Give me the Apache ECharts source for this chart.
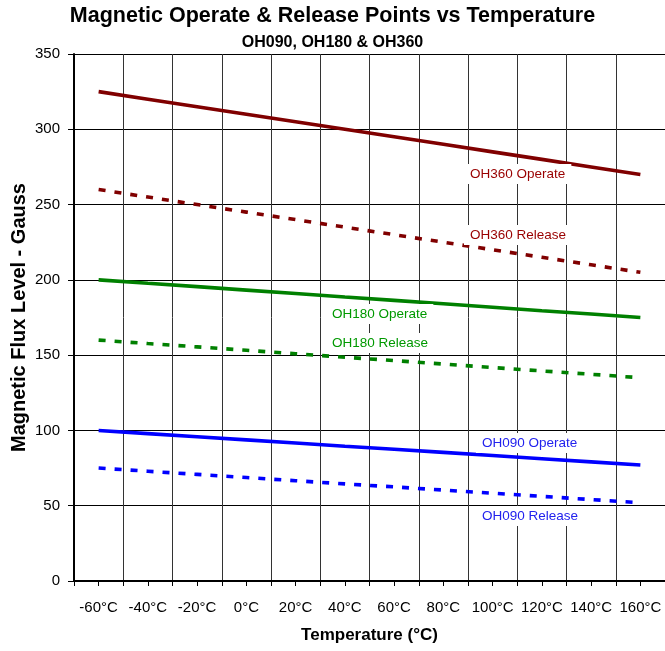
<!DOCTYPE html>
<html>
<head>
<meta charset="utf-8">
<script src="https://cdn.jsdelivr.net/npm/echarts@6/dist/echarts.min.js"></script>
<style>
html,body{margin:0;padding:0;background:#fff;}
#chart{width:665px;height:651px;}
</style>
</head>
<body>
<div id="chart"></div>
<script>
const categories = ['-60°C','-40°C','-20°C','0°C','20°C','40°C','60°C','80°C','100°C','120°C','140°C','160°C'];
const oh360Operate = [325,320,315,310,305,300,295,290,285,280,275,270];
const oh360Release = [260,255,250,245,240,235,230,225,220,215,210,205];
const oh180Operate = [200,197.7,195.5,193.2,190.9,188.6,186.4,184.1,181.8,179.5,177.3,175];
const oh180Release = [160,157.7,155.5,153.2,150.9,148.6,146.4,144.1,141.8,139.5,137.3,135];
const oh090Operate = [100,97.9,95.8,93.7,91.6,89.5,87.5,85.4,83.3,81.2,79.1,77];
const oh090Release = [75,72.9,70.8,68.7,66.6,64.5,62.5,60.4,58.3,56.2,54.1,52];
const yTicks = [0,50,100,150,200,250,300,350];

const cRed = '#800000', cGreen = '#008000', cBlue = '#0000ff';
const FONT = 'Liberation Sans, Arial, sans-serif';

function line(name, data, color, dashed){
  return {
    name, type:'line', data, xAxisIndex:0, yAxisIndex:0,
    symbol:'none', smooth:false, animation:false,
    lineStyle:{color, width:3.6, type: dashed ? [7,9] : 'solid', cap:'butt'},
    z:5
  };
}
function note(text, x, y, color){
  return {
    type:'text', left:x, top:y, z:10,
    style:{text, fill:color, font:'13.5px '+FONT, backgroundColor:'#fff', padding:[3,6,3,6]}
  };
}

const chart = echarts.init(document.getElementById('chart'), null, {renderer:'canvas'});
chart.setOption({
  animation:false,
  backgroundColor:'#fff',
  title:[
    {text:'Magnetic Operate & Release Points vs Temperature', left:'center', top:0,
     textStyle:{fontFamily:FONT, fontSize:21.5, fontWeight:'bold', color:'#000'}},
    {text:'OH090, OH180 & OH360', left:'center', top:30,
     textStyle:{fontFamily:FONT, fontSize:16, fontWeight:'bold', color:'#000'}}
  ],
  grid:{left:74, right:0, top:54, bottom:70, containLabel:false, outerBoundsMode:'none'},
  xAxis:[
    {type:'category', data:categories, boundaryGap:true,
     name:'Temperature (°C)', nameLocation:'middle', nameGap:46, nameMoveOverlap:false,
     nameTextStyle:{fontFamily:FONT, fontSize:17, fontWeight:'bold', color:'#000'},
     axisLine:{lineStyle:{color:'#000', width:2}},
     axisTick:{show:true, length:5, lineStyle:{color:'#000'}},
     axisLabel:{fontFamily:FONT, fontSize:15, color:'#000', margin:19, interval:0},
     splitLine:{show:true, interval:0, lineStyle:{color:'#333', width:1}}},
    {type:'category', data:categories, boundaryGap:true, position:'bottom',
     axisLine:{show:false},
     axisTick:{show:true, alignWithLabel:true, length:5, interval:0, lineStyle:{color:'#000'}},
     axisLabel:{show:false}, splitLine:{show:false}}
  ],
  yAxis:{type:'value', min:yTicks[0], max:yTicks[yTicks.length-1], interval:50,
     name:'Magnetic Flux Level - Gauss', nameLocation:'middle', nameGap:45, nameMoveOverlap:false,
     nameTextStyle:{fontFamily:FONT, fontSize:20, fontWeight:'bold', color:'#000'},
     axisLine:{show:true, lineStyle:{color:'#000', width:2}},
     axisTick:{show:true, length:6, lineStyle:{color:'#000'}},
     axisLabel:{fontFamily:FONT, fontSize:15, color:'#000', margin:14},
     splitLine:{show:true, lineStyle:{color:'#000', width:1}}},
  series:[
    line('OH360 Operate', oh360Operate, cRed, false),
    line('OH360 Release', oh360Release, cRed, true),
    line('OH180 Operate', oh180Operate, cGreen, false),
    line('OH180 Release', oh180Release, cGreen, true),
    line('OH090 Operate', oh090Operate, cBlue, false),
    line('OH090 Release', oh090Release, cBlue, true)
  ],
  graphic:[
    note('OH360 Operate', 464, 164, '#990000'),
    note('OH360 Release', 464, 225, '#990000'),
    note('OH180 Operate', 326, 304, '#009900'),
    note('OH180 Release', 326, 333, '#009900'),
    note('OH090 Operate', 476, 433, '#2222ee'),
    note('OH090 Release', 476, 506, '#2222ee')
  ]
});
</script>
</body>
</html>
